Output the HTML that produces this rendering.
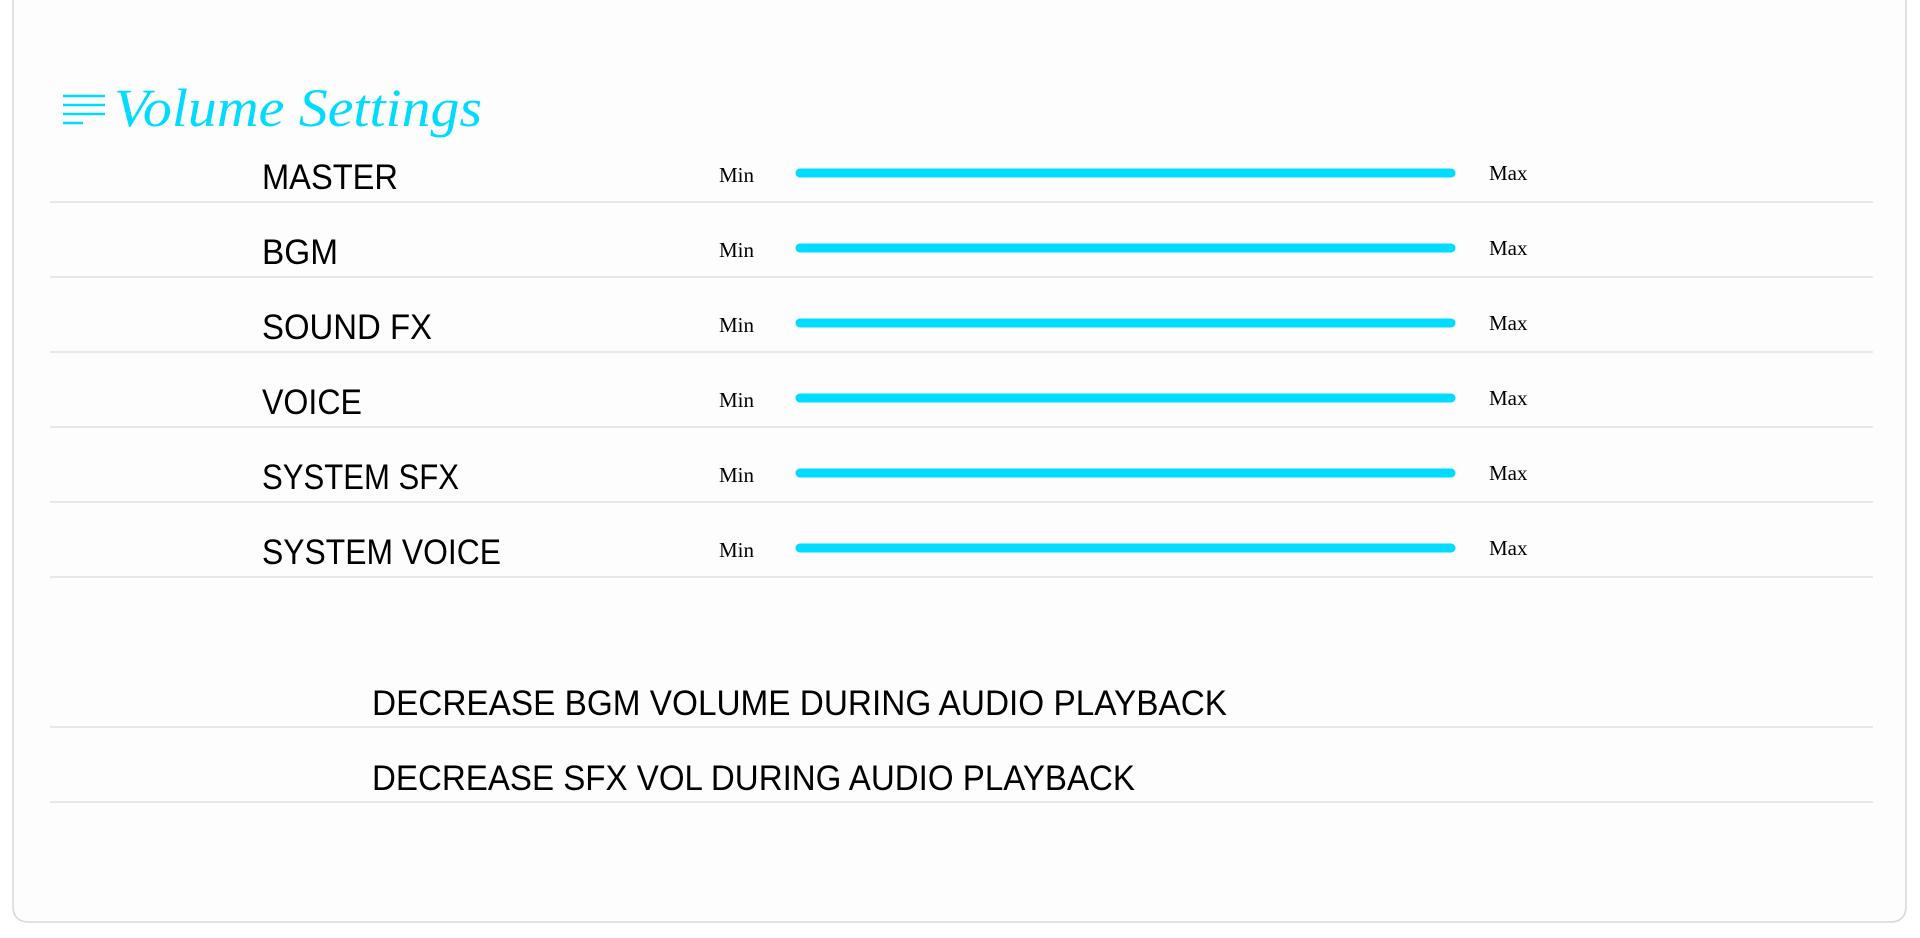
<!DOCTYPE html>
<html><head><meta charset="utf-8"><style>
html,body{margin:0;padding:0;background:#fff;width:1920px;height:938px;overflow:hidden}
svg{display:block}
.lbl{font-family:"Liberation Sans",sans-serif;font-size:35px;fill:#000}
.mm{font-family:"Liberation Serif",serif;font-size:21px;fill:#000}
</style></head><body>
<svg id="ui" width="1920" height="938">
  <path d="M13,-5 L13,906 Q13,922 29,922 L1890,922 Q1906,922 1906,906 L1906,-5" fill="#fdfdfd" stroke="#d8d8d8" stroke-width="1.5"/>
  <g stroke="#00dcff" stroke-width="2.5">
    <line x1="63" y1="96" x2="105" y2="96"/><line x1="63" y1="105" x2="105" y2="105"/>
    <line x1="63" y1="114" x2="105" y2="114"/><line x1="63" y1="123" x2="83" y2="123"/>
  </g>
  <text x="114" y="126" font-family="Liberation Serif,serif" font-style="italic" font-size="54" fill="#00dcff" textLength="368" lengthAdjust="spacingAndGlyphs">Volume Settings</text>
  <g id="rows"></g>
</svg>
<script>
const labels = ["MASTER","BGM","SOUND FX","VOICE","SYSTEM SFX","SYSTEM VOICE"];
const volumes = [100,100,100,100,100,100];
const toggles = ["DECREASE BGM VOLUME DURING AUDIO PLAYBACK","DECREASE SFX VOL DURING AUDIO PLAYBACK"];
const NS="http://www.w3.org/2000/svg";
const g=document.getElementById('rows');
const labelW=[136,76,170,100,197,239], toggleW=[855,763];
function mk(t,a,p){const e=document.createElementNS(NS,t);for(const k in a)e.setAttribute(k,a[k]);(p||g).appendChild(e);return e;}
const sx=v=>796+(1455-796)*v/100;
labels.forEach((l,i)=>{
  const dy=75*i;
  const row=mk('g',{});
  
  
  const t=mk('text',{x:262,y:189+dy,class:'lbl',textLength:labelW[i],lengthAdjust:'spacingAndGlyphs'},row);t.textContent=l;
  
  
  const mn=mk('text',{x:719,y:182+dy,class:'mm'},row);mn.textContent='Min';
  
  
  const tr=mk('line',{x1:800,y1:173+dy,x2:1451,y2:173+dy,stroke:'#e6e6e6','stroke-width':9,'stroke-linecap':'round'},row);
  
  
  const f=mk('line',{x1:800,y1:173+dy,x2:sx(volumes[i])-4,y2:173+dy,stroke:'#00dcff','stroke-width':9,'stroke-linecap':'round'},row);
  
  
  const mx=mk('text',{x:1489,y:180+dy,class:'mm'},row);mx.textContent='Max';
  
  
  const sep=mk('line',{x1:50,y1:202+dy,x2:1873,y2:202+dy,stroke:'#e8e8e8','stroke-width':2},row);
  
  
});
toggles.forEach((l,i)=>{
  const dy=75*i;
  const t=mk('text',{x:372,y:715+dy,class:'lbl',textLength:toggleW[i],lengthAdjust:'spacingAndGlyphs'});t.textContent=l;
  
  
  const sep=mk('line',{x1:50,y1:727+dy,x2:1873,y2:727+dy,stroke:'#e8e8e8','stroke-width':2});
  
  
});
</script>
</body></html>
